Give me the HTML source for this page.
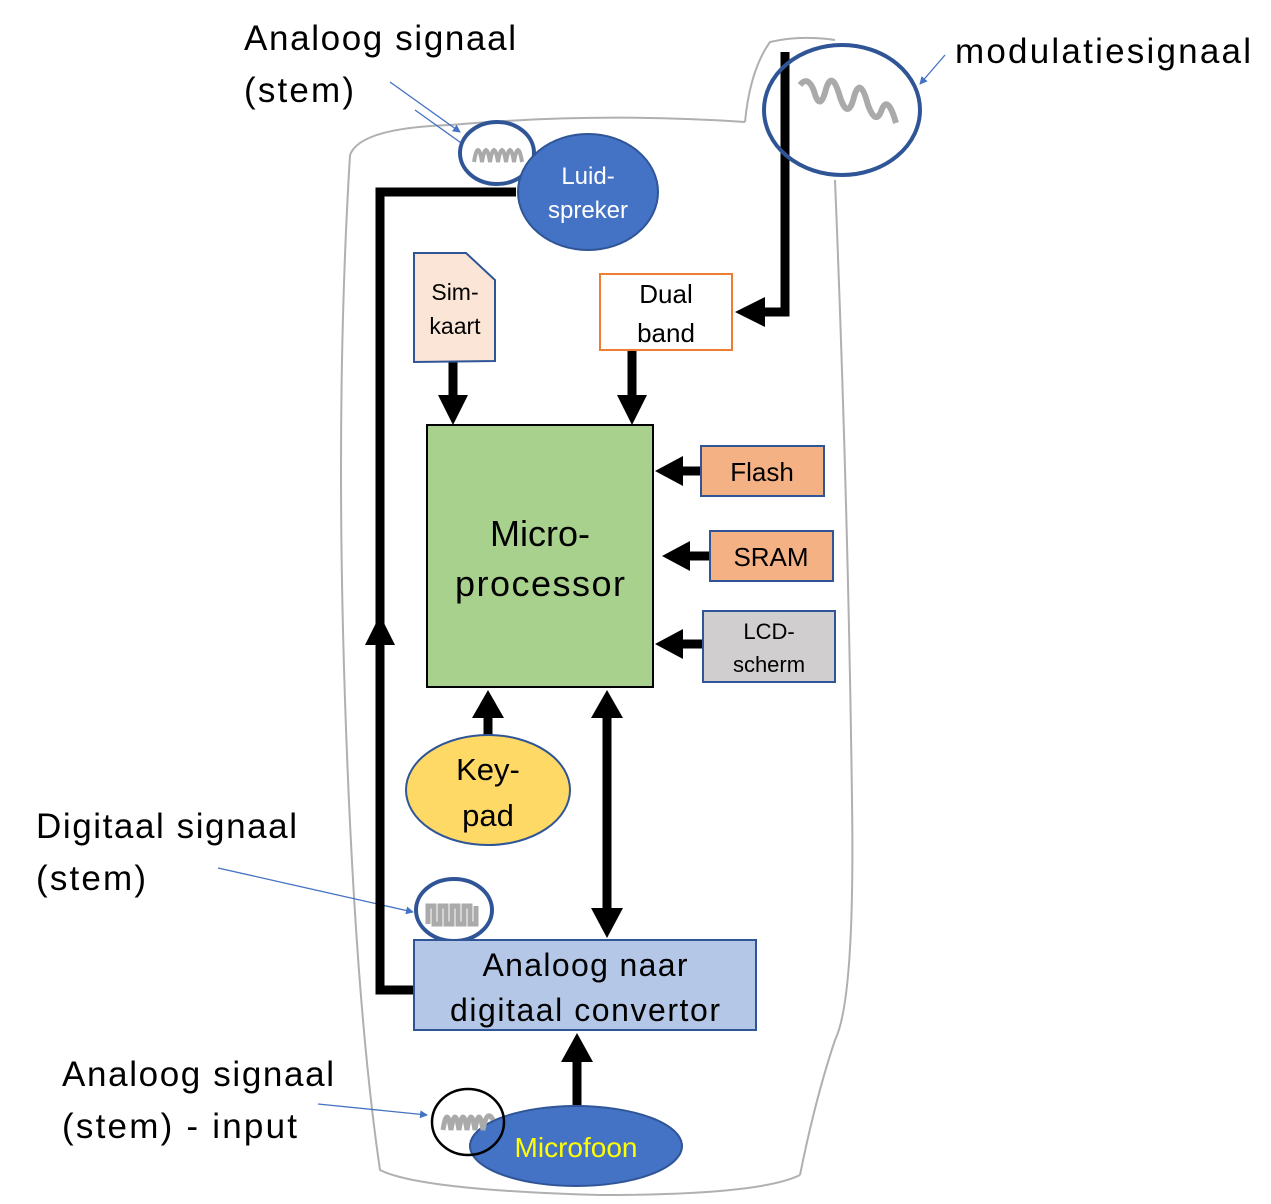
<!DOCTYPE html>
<html><head><style>body{margin:0;background:#fff}svg{display:block}text{font-family:"Liberation Sans",sans-serif}</style></head><body>
<svg width="1271" height="1204" viewBox="0 0 1271 1204" xmlns="http://www.w3.org/2000/svg">
<defs><marker id="ba" markerWidth="8" markerHeight="8" refX="7" refY="4" orient="auto" markerUnits="userSpaceOnUse"><path d="M0,0L8,4L0,8z" fill="#4472C4"/></marker></defs>
<g fill="none" stroke="#b0b0b0" stroke-width="2">
<path d="M350,155 Q360,128 450,125 Q600,112 745,122"/>
<path d="M350,155 Q335,400 345,700 Q355,1000 380,1170 Q420,1190 600,1195 Q760,1195 800,1175"/>
<path d="M745,122 Q750,70 770,42 Q800,35 835,40"/>
<path d="M835,180 Q848,500 852,800 Q855,1000 835,1040 Q815,1100 800,1175"/>
</g>
<g stroke="#4472C4" stroke-width="1.3" fill="none">
<line x1="390" y1="82" x2="460" y2="132" marker-end="url(#ba)"/>
<line x1="415" y1="110" x2="485" y2="160" marker-end="url(#ba)"/>
<line x1="945" y1="55" x2="920" y2="84" marker-end="url(#ba)"/>
<line x1="218" y1="868" x2="413" y2="912" marker-end="url(#ba)"/>
<line x1="318" y1="1104" x2="427" y2="1115" marker-end="url(#ba)"/>
</g>
<ellipse cx="497" cy="153" rx="37" ry="31" fill="#fff" stroke="#2F5597" stroke-width="4"/>
<path d="M474,162 q4,-24 8,0 q4,-24 8,0 q4,-24 8,0 q4,-24 8,0 q4,-24 8,0 q4,-24 8,0" fill="none" stroke="#aaa" stroke-width="4"/>
<ellipse cx="588" cy="192" rx="70" ry="58" fill="#4472C4" stroke="#2F5597" stroke-width="2"/>
<text x="588" y="184" font-size="24" fill="#fff" text-anchor="middle">Luid-</text>
<text x="588" y="218" font-size="24" fill="#fff" text-anchor="middle">spreker</text>
<g fill="none" stroke="#000" stroke-width="9">
<polyline points="516,192 380,192 380,990 415,990"/>
<polyline points="785,52 785,312 765,312"/>
<line x1="453" y1="362" x2="453" y2="398"/>
<line x1="632" y1="350" x2="632" y2="398"/>
<line x1="700" y1="471" x2="680" y2="471"/>
<line x1="710" y1="556" x2="688" y2="556"/>
<line x1="703" y1="644" x2="680" y2="644"/>
<line x1="488" y1="737" x2="488" y2="715"/>
<line x1="607" y1="715" x2="607" y2="912"/>
<line x1="577" y1="1107" x2="577" y2="1060"/>
</g>
<g fill="#000">
<path d="M365,645L380,615L395,645z"/>
<path d="M765,297L735,312L765,327z"/>
<path d="M438,395L453,425L468,395z"/>
<path d="M617,395L632,425L647,395z"/>
<path d="M683,456L655,471L683,486z"/>
<path d="M690,541L662,556L690,571z"/>
<path d="M683,629L655,644L683,659z"/>
<path d="M472,718L488,690L504,718z"/>
<path d="M591,718L607,690L623,718z"/>
<path d="M591,908L607,938L623,908z"/>
<path d="M561,1062L577,1033L593,1062z"/>
</g>
<ellipse cx="842" cy="110" rx="78" ry="65" fill="none" stroke="#2F5597" stroke-width="4"/>
<path d="M800,85 q8,-10 14,6 q6,22 12,-2 q6,-20 14,8 q8,24 14,0 q6,-22 14,8 q8,22 14,4 q6,-14 14,14" fill="none" stroke="#aaa" stroke-width="6"/>
<path d="M414,253L466,253L495,280L495,361L414,362z" fill="#FBE5D6" stroke="#2F5597" stroke-width="2"/>
<text x="455" y="300" font-size="23" text-anchor="middle">Sim-</text>
<text x="455" y="334" font-size="23" text-anchor="middle">kaart</text>
<rect x="600" y="274" width="132" height="76" fill="#fff" stroke="#ED7D31" stroke-width="2"/>
<text x="666" y="303" font-size="26" text-anchor="middle">Dual</text>
<text x="666" y="342" font-size="26" text-anchor="middle">band</text>
<rect x="427" y="425" width="226" height="262" fill="#A9D18E" stroke="#000" stroke-width="2"/>
<text x="540" y="546" font-size="36" text-anchor="middle">Micro-</text>
<text x="540" y="596" font-size="36" text-anchor="middle" textLength="170">processor</text>
<rect x="701" y="446" width="123" height="50" fill="#F4B183" stroke="#2F5597" stroke-width="2"/>
<text x="762" y="481" font-size="26" text-anchor="middle">Flash</text>
<rect x="710" y="531" width="123" height="50" fill="#F4B183" stroke="#2F5597" stroke-width="2"/>
<text x="771" y="566" font-size="26" text-anchor="middle">SRAM</text>
<rect x="703" y="611" width="132" height="71" fill="#D0CECE" stroke="#2F5597" stroke-width="2"/>
<text x="769" y="639" font-size="22" text-anchor="middle">LCD-</text>
<text x="769" y="672" font-size="22" text-anchor="middle">scherm</text>
<ellipse cx="488" cy="790" rx="82" ry="55" fill="#FFD966" stroke="#2F5597" stroke-width="2"/>
<text x="488" y="780" font-size="31" text-anchor="middle">Key-</text>
<text x="488" y="826" font-size="31" text-anchor="middle">pad</text>
<ellipse cx="454" cy="910" rx="38" ry="31" fill="#fff" stroke="#2F5597" stroke-width="4"/>
<path d="M428,924 l0,-18 h6 v18 h6 v-18 h6 v18 h6 v-18 h6 v18 h6 v-18 h6 v18 h6 v-18" fill="none" stroke="#aaa" stroke-width="5"/>
<rect x="414" y="940" width="342" height="90" fill="#B4C7E7" stroke="#2F5597" stroke-width="2"/>
<text x="585" y="976" font-size="32" text-anchor="middle" textLength="205">Analoog naar</text>
<text x="585" y="1021" font-size="32" text-anchor="middle" textLength="270">digitaal convertor</text>
<ellipse cx="576" cy="1146" rx="106" ry="40" fill="#4472C4" stroke="#2F5597" stroke-width="2"/>
<text x="576" y="1157" font-size="28" fill="#FFFF00" text-anchor="middle">Microfoon</text>
<ellipse cx="468" cy="1122" rx="36" ry="33" fill="none" stroke="#000" stroke-width="2.5"/>
<path d="M443,1130 q4,-26 8,0 q4,-26 8,0 q4,-26 8,0 q4,-26 8,0 q4,-26 8,0 q4,-22 10,-10" fill="none" stroke="#aaa" stroke-width="5"/>
<g font-size="35">
<text x="244" y="50" textLength="272">Analoog signaal</text>
<text x="244" y="102" textLength="110">(stem)</text>
<text x="955" y="63" textLength="296">modulatiesignaal</text>
<text x="36" y="838" textLength="261">Digitaal signaal</text>
<text x="36" y="890" textLength="110">(stem)</text>
<text x="62" y="1086" textLength="272">Analoog signaal</text>
<text x="62" y="1138" textLength="235">(stem) - input</text>
</g>
</svg>
</body></html>
